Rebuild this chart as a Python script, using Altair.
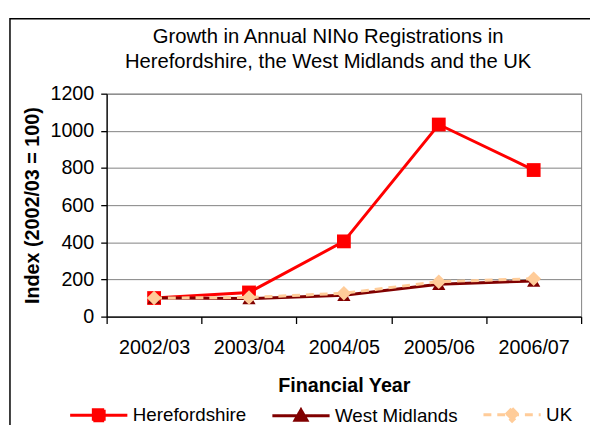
import altair as alt
import pandas as pd

# ---- data ----
years = ["2002/03", "2003/04", "2004/05", "2005/06", "2006/07"]
herefordshire = [100, 130, 405, 1034, 789]
west_midlands = [100, 97, 115, 174, 192]
uk = [100, 103, 126, 188, 204]

series_names = ["Herefordshire", "West Midlands", "UK"]
series_colors = ["#FF0000", "#800000", "#FFCC99"]
series_shapes = ["square", "triangle-up", "diamond"]
series_sizes = [196, 180, 220]
series_dashes = [[1, 0], [1, 0], [8, 6]]
legend_paths = [
    "M-2.9,0H2.9M-0.55,-0.55H0.55V0.55H-0.55Z",
    "M-2.9,0H2.9M-0.6,0.45L0,-0.6L0.6,0.45Z",
    "M-2.9,0H2.9M0,-0.65L0.65,0L0,0.65L-0.65,0Z",
]
y_ticks = [0, 200, 400, 600, 800, 1000, 1200]

rows = []
for name, vals in zip(series_names, [herefordshire, west_midlands, uk]):
    for yr, v in zip(years, vals):
        rows.append({"year": yr, "series": name, "value": v})
df = pd.DataFrame(rows)

FONT = "Liberation Sans"
W, H = 481, 226

x_enc = alt.X(
    "year:O",
    sort=years,
    scale=alt.Scale(type="band", paddingInner=0, paddingOuter=0),
    bandPosition=0.5,
    axis=alt.Axis(
        title="Financial Year",
        labelAngle=0,
        tickBand="extent",
        tickSize=7,
        labelPadding=14,
        grid=False,
        titleY=70,
        titleBaseline="middle",
    ),
)
y_enc = alt.Y(
    "value:Q",
    scale=alt.Scale(domain=[0, 1200], nice=False),
    axis=alt.Axis(
        values=y_ticks,
        format="d",
        title="Index (2002/03 = 100)",
        tickSize=6,
        labelPadding=7,
        titleX=-75,
        titleY=H / 2,
        titleAngle=270,
        titleAlign="center",
        titleBaseline="middle",
    ),
)

base = alt.Chart(df).encode(x=x_enc, y=y_enc)

# decorative chart-area frame
frame = alt.Chart(pd.DataFrame({"k": [0]})).mark_rect(
    fill="transparent", stroke="black", strokeWidth=1.5
).encode(x=alt.value(-98), x2=alt.value(800), y=alt.value(-76), y2=alt.value(600))

layers = [frame]
for name, color, shape, size, dash in zip(
    series_names, series_colors, series_shapes, series_sizes, series_dashes
):
    sub = base.transform_filter(alt.datum.series == name)
    line_kw = dict(color=color, strokeWidth=3)
    if dash != [1, 0]:
        line_kw["strokeDash"] = dash
    layers.append(sub.mark_line(**line_kw))
    layers.append(
        sub.mark_point(shape=shape, filled=True, color=color, size=size, opacity=1)
    )

leg = alt.Legend(
    title=None,
    orient="none",
    legendX=-19.5,
    legendY=314,
    direction="horizontal",
    columns=3,
    symbolSize=400,
    symbolStrokeWidth=3,
    labelFont=FONT,
    labelFontSize=19,
    labelColor="black",
    labelOffset=23,
    columnPadding=19,
)
legend_layer = (
    alt.Chart(df)
    .transform_filter("false")
    .mark_point(filled=True, opacity=1, strokeWidth=3, size=400)
    .encode(
        fill=alt.Fill("series:N", scale=alt.Scale(domain=series_names, range=series_colors), legend=leg),
        stroke=alt.Stroke("series:N", scale=alt.Scale(domain=series_names, range=series_colors), legend=leg),
        shape=alt.Shape("series:N", scale=alt.Scale(domain=series_names, range=legend_paths), legend=leg),
        strokeDash=alt.StrokeDash("series:N", scale=alt.Scale(domain=series_names, range=series_dashes), legend=leg),
    )
)
layers.append(legend_layer)

chart = (
    alt.layer(*layers)
    .properties(
        width=W,
        height=H,
        autosize=alt.AutoSizeParams(type="none"),
        padding={"left": 100, "top": 84, "right": 9, "bottom": 107},
        title=alt.TitleParams(
            text=[
                "Growth in Annual NINo Registrations in",
                "Herefordshire, the West Midlands and the UK",
            ],
            font=FONT,
            fontSize=20.5,
            fontWeight="normal",
            color="black",
            anchor="middle",
            dx=-16,
            lineHeight=25.5,
            offset=-55,
        ),
    )
    .configure_view(stroke="#808080", strokeWidth=1)
    .configure_axis(
        domainColor="black",
        domainWidth=1.3,
        tickColor="black",
        tickWidth=1.3,
        gridColor="#808080",
        gridWidth=1,
        gridOpacity=1,
        labelFont=FONT,
        labelFontSize=20,
        labelColor="black",
        titleFont=FONT,
        titleFontSize=20,
        titleFontWeight="bold",
        titleColor="black",
    )
)

chart.save("out.html", embed_options={"renderer": "svg", "actions": False})
